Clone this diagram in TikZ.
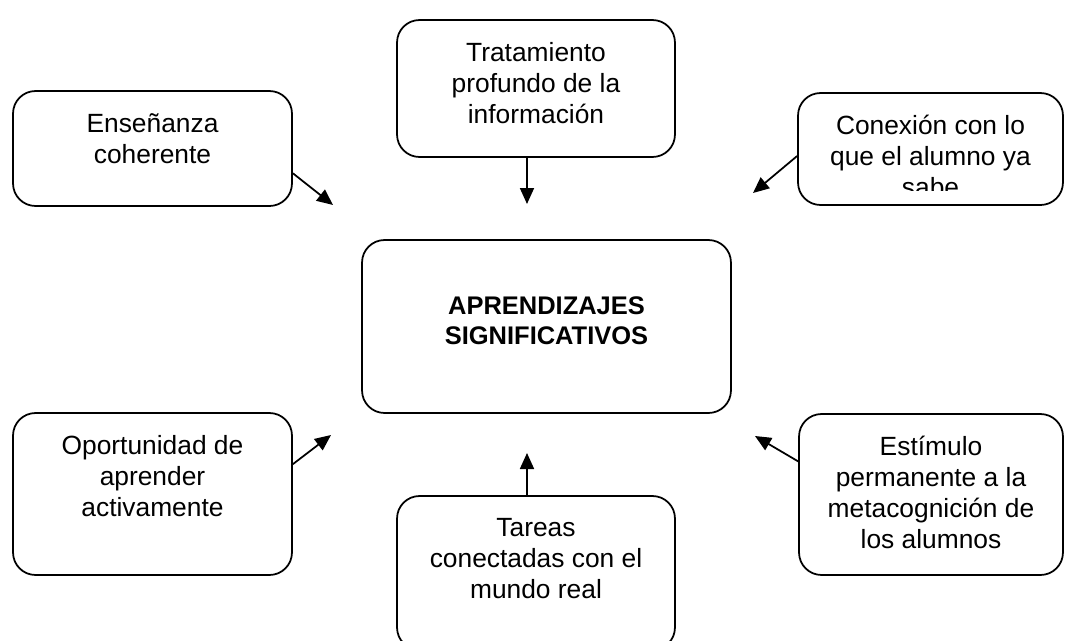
\documentclass[tikz,border=0pt]{standalone}
\usepackage{fontspec}
\setmainfont{Liberation Sans}
\usetikzlibrary{arrows.meta}
\begin{document}
\begin{tikzpicture}[x=0.02cm, y=-0.02cm,
        box/.style={draw, line width=1pt, rounded corners=0.45cm, inner sep=0pt},
        txt/.style={align=center, inner sep=0pt, anchor=north, font=\fontsize{15}{17.6}\selectfont},
        arr/.style={-{Triangle[length=0.32cm,width=0.28cm]}, line width=1pt}]
        \useasboundingbox (0,0) rectangle (1066,640);
        % boxes
        \node[box, minimum width=5.58cm, minimum height=2.30cm] (ense) at (152.5,148.5) {};
        \node[box, minimum width=5.56cm, minimum height=2.74cm] (trat) at (536,88.5) {};
        \node[box, minimum width=5.30cm, minimum height=2.24cm] (cone) at (930.5,149) {};
        \node[box, minimum width=7.38cm, minimum height=3.46cm] (apre) at (546.5,326.5) {};
        \node[box, minimum width=5.58cm, minimum height=3.24cm] (opor) at (152.5,494) {};
        \node[box, minimum width=5.56cm, minimum height=3.08cm] (tare) at (536,573) {};
        \node[box, minimum width=5.28cm, minimum height=3.22cm] (esti) at (931,494.5) {};
        % texts
        \node[txt] (ense-t) at ([yshift=-0.46cm]ense.north) {Enseñanza\\coherente};
        \node[txt] (trat-t) at ([yshift=-0.46cm]trat.north) {Tratamiento\\profundo de la\\información};
        \begin{scope}
            \clip (780,0) rectangle (1066,190);
            \node[txt] (cone-t) at ([yshift=-0.46cm]cone.north) {Conexión con lo\\que el alumno ya\\sabe};
        \end{scope}
        \node[txt, anchor=center, font=\fontsize{14.5}{17.2}\selectfont\bfseries] (apre-t) at ([yshift=0.12cm]apre.center) {APRENDIZAJES\\SIGNIFICATIVOS};
        \node[txt] (opor-t) at ([yshift=-0.46cm]opor.north) {Oportunidad de\\aprender\\activamente};
        \node[txt] (tare-t) at ([yshift=-0.46cm]tare.north) {Tareas\\conectadas con el\\mundo real};
        \node[txt] (esti-t) at ([yshift=-0.46cm]esti.north) {Estímulo\\permanente a la\\metacognición de\\los alumnos};
        % arrow ends
        \coordinate (ense-end) at (333,205);
        \coordinate (trat-end) at (527,204);
        \coordinate (cone-end) at (753,193);
        \coordinate (opor-end) at (331,435);
        \coordinate (tare-end) at (527,453);
        \coordinate (esti-end) at (755,436);
        \draw[arr] (ense.-10) -- (ense-end);
        \draw[arr] (trat.south -| trat-end) -- (trat-end);
        \draw[arr] (cone.183.5) -- (cone-end);
        \draw[arr] (opor.12.5) -- (opor-end);
        \draw[arr] (tare.north -| tare-end) -- (tare-end);
        \draw[arr] (esti.166.6) -- (esti-end);
    \end{tikzpicture}
\end{document}
